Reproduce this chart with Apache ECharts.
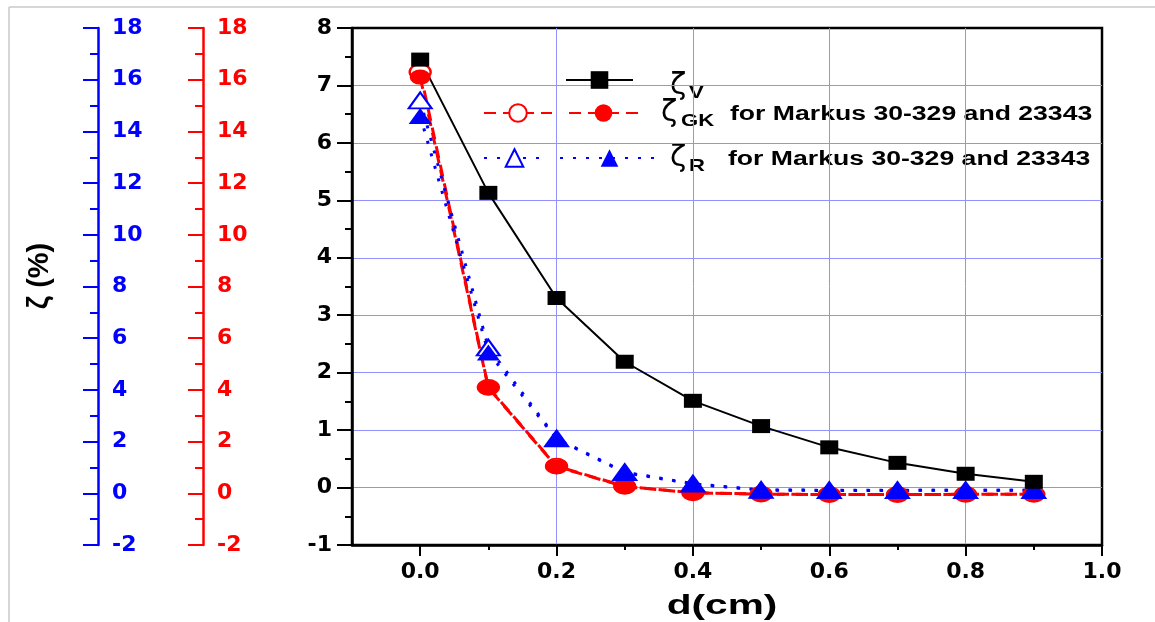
<!DOCTYPE html>
<html>
<head>
<meta charset="UTF-8">
<title>zeta vs d</title>
<script src="https://cdn.jsdelivr.net/npm/echarts@6/dist/echarts.min.js"></script>
<style>
  html, body { margin: 0; background: #fff; }
  #main { width: 1155px; height: 622px; }
</style>
</head>
<body>
<div id="main"></div>
<script>
// distance d (cm)
var dValues = [0, 0.1, 0.2, 0.3, 0.4, 0.5, 0.6, 0.7, 0.8, 0.9];
// zeta_V, read on the black (right hand) axis
var zetaV = [7.45, 5.13, 3.30, 2.19, 1.51, 1.07, 0.70, 0.43, 0.24, 0.10];
// zeta_GK (%), red axis: open = Markus 30-329, filled = 23343
var zetaGKOpen = [16.3, 4.1, 1.05, 0.27, 0.02, -0.03, -0.05, -0.05, -0.04, -0.04];
var zetaGK = [16.1, 4.08, 1.03, 0.26, 0.02, -0.03, -0.05, -0.05, -0.04, -0.04];
// zeta_R (%), blue axis
var zetaROpen = [15.2, 5.64, 2.12, 0.82, 0.37, 0.13, 0.12, 0.12, 0.12, 0.12];
var zetaR = [14.6, 5.45, 2.10, 0.80, 0.36, 0.12, 0.11, 0.11, 0.12, 0.12];
// x ticks
var xMajorTicks = [0, 0.2, 0.4, 0.6, 0.8, 1.0];
var xMinorTicks = [0.1, 0.3, 0.5, 0.7, 0.9];

function pairs(arr) {
  return dValues.map(function (d, i) { return [d, arr[i]]; });
}

var gridBlue = '#9292ff';
var labelFont = { fontFamily: 'DejaVu Sans', fontWeight: 'bold', fontSize: 22 };

function sideAxis(color, offset) {
  return {
    type: 'value', position: 'left', offset: offset,
    min: -2, max: 18, interval: 2,
    axisLine: { show: true, onZero: false, lineStyle: { color: color, width: 2.5 } },
    axisTick: { show: true, inside: false, length: 15, lineStyle: { color: color, width: 2 } },
    minorTick: { show: true, splitNumber: 2, length: 8, lineStyle: { color: color, width: 2 } },
    axisLabel: Object.assign({ inside: true, margin: 14, color: color }, labelFont),
    splitLine: { show: false }
  };
}

function legendAt(name, left, top, width) {
  return {
    show: true, data: [name], left: left, top: top, padding: 0,
    itemWidth: width, itemHeight: 22, itemGap: 0, selectedMode: false,
    formatter: function () { return ''; },
    textStyle: { fontSize: 1 }
  };
}

var myChart = echarts.init(document.getElementById('main'));

var option = {
  backgroundColor: '#fff',
  animation: false,
  grid: {
    left: 352, right: 53, top: 28, bottom: 77,
    show: true, borderColor: '#000', borderWidth: 2.5,
    containLabel: false, outerBoundsMode: 'none'
  },
  legend: [
    legendAt('zV', 565, 69, 67),
    legendAt('zGK open', 483, 102, 68),
    legendAt('zGK', 568, 102, 69),
    legendAt('zR open', 483, 147, 61),
    legendAt('zR', 559, 147, 99)
  ],
  xAxis: [{
    type: 'value', position: 'bottom', min: -0.1, max: 1.0,
    axisLine: { show: true, onZero: false, lineStyle: { color: '#000', width: 2.5 } },
    axisTick: { show: true, inside: false, length: 11, customValues: xMajorTicks, lineStyle: { width: 2 } },
    axisLabel: Object.assign({
      customValues: xMajorTicks, margin: 16, color: '#000',
      formatter: function (v) { return v.toFixed(1); }
    }, labelFont),
    splitLine: { show: true, showMinLine: false, showMaxLine: false, lineStyle: { color: gridBlue, width: 1 } }
  }, {
    type: 'value', position: 'bottom', min: -0.1, max: 1.0,
    axisLine: { show: false, onZero: false },
    axisTick: { show: true, inside: false, length: 5, customValues: xMinorTicks, lineStyle: { color: '#000', width: 2 } },
    axisLabel: { show: false },
    splitLine: { show: false }
  }],
  yAxis: [{
    type: 'value', position: 'left', min: -1, max: 8, interval: 1,
    axisLine: { show: true, onZero: false, lineStyle: { color: '#000', width: 2.5 } },
    axisTick: { show: true, inside: false, length: 15, lineStyle: { color: '#000', width: 2 } },
    minorTick: { show: true, splitNumber: 2, length: 7, lineStyle: { color: '#000', width: 2 } },
    axisLabel: Object.assign({ margin: 20, color: '#000' }, labelFont),
    splitLine: { show: true, showMinLine: false, showMaxLine: false, lineStyle: { color: gridBlue, width: 1 } }
  },
    sideAxis('#ff0000', 149),
    sideAxis('#0000ff', 254)
  ],
  series: [{
    name: 'zGK open', type: 'line', yAxisIndex: 1, data: pairs(zetaGKOpen),
    symbol: 'emptyCircle', symbolSize: [21, 15],
    itemStyle: { color: '#ff0000', borderWidth: 1.5 },
    lineStyle: { color: '#ff0000', width: 3, type: [12, 7] }
  }, {
    name: 'zGK', type: 'line', yAxisIndex: 1, data: pairs(zetaGK),
    symbol: 'circle', symbolSize: [21, 15],
    itemStyle: { color: '#ff0000' },
    lineStyle: { color: '#ff0000', width: 3, type: [12, 7] }
  }, {
    name: 'zR open', type: 'line', yAxisIndex: 2, data: pairs(zetaROpen),
    symbol: 'emptyTriangle', symbolSize: [23, 16],
    itemStyle: { color: '#0000ff', borderWidth: 1.5 },
    lineStyle: { color: '#0000ff', width: 3, type: [3, 10] }
  }, {
    name: 'zR', type: 'line', yAxisIndex: 2, data: pairs(zetaR),
    symbol: 'triangle', symbolSize: [23, 16],
    itemStyle: { color: '#0000ff' },
    lineStyle: { color: '#0000ff', width: 3, type: [3, 10] }
  }, {
    name: 'zV', type: 'line', yAxisIndex: 0, data: pairs(zetaV),
    symbol: 'rect', symbolSize: [18, 14],
    itemStyle: { color: '#000' },
    lineStyle: { color: '#000', width: 2 }
  }],
  graphic: [
    // light frame of the picture
    { type: 'line', shape: { x1: 9, y1: 7, x2: 1155, y2: 7 }, style: { stroke: '#c8c8c8', lineWidth: 1.5 } },
    { type: 'line', shape: { x1: 9, y1: 7, x2: 9, y2: 622 }, style: { stroke: '#c8c8c8', lineWidth: 1.5 } },
    // y title
    { type: 'text', x: 40, y: 276, rotation: Math.PI / 2,
      style: { text: 'ζ (%)', font: 'bold 29px "Liberation Sans"', fill: '#000', align: 'center', verticalAlign: 'middle' } },
    // x title
    { type: 'text', x: 722, y: 606, scaleX: 1.45,
      style: { text: 'd(cm)', font: 'bold 28px "Liberation Sans"', fill: '#000', align: 'center', verticalAlign: 'middle' } },
    // legend labels
    { type: 'text', x: 670, y: 86, style: { text: 'ζ', font: '30px "DejaVu Sans"', fill: '#000', align: 'left', verticalAlign: 'middle' } },
    { type: 'text', x: 689, y: 93, scaleX: 1.3, style: { text: 'V', font: 'bold 17px "Liberation Sans"', fill: '#000', align: 'left', verticalAlign: 'middle' } },
    { type: 'text', x: 661, y: 113, style: { text: 'ζ', font: '30px "DejaVu Sans"', fill: '#000', align: 'left', verticalAlign: 'middle' } },
    { type: 'text', x: 681, y: 121, scaleX: 1.3, style: { text: 'GK', font: 'bold 17px "Liberation Sans"', fill: '#000', align: 'left', verticalAlign: 'middle' } },
    { type: 'text', x: 730, y: 114, scaleX: 1.33, style: { text: 'for Markus 30-329 and 23343', font: 'bold 20px "Liberation Sans"', fill: '#000', align: 'left', verticalAlign: 'middle' } },
    { type: 'text', x: 670, y: 158, style: { text: 'ζ', font: '30px "DejaVu Sans"', fill: '#000', align: 'left', verticalAlign: 'middle' } },
    { type: 'text', x: 689, y: 166, scaleX: 1.3, style: { text: 'R', font: 'bold 17px "Liberation Sans"', fill: '#000', align: 'left', verticalAlign: 'middle' } },
    { type: 'text', x: 728, y: 159, scaleX: 1.33, style: { text: 'for Markus 30-329 and 23343', font: 'bold 20px "Liberation Sans"', fill: '#000', align: 'left', verticalAlign: 'middle' } }
  ]
};

myChart.setOption(option);
</script>
</body>
</html>
